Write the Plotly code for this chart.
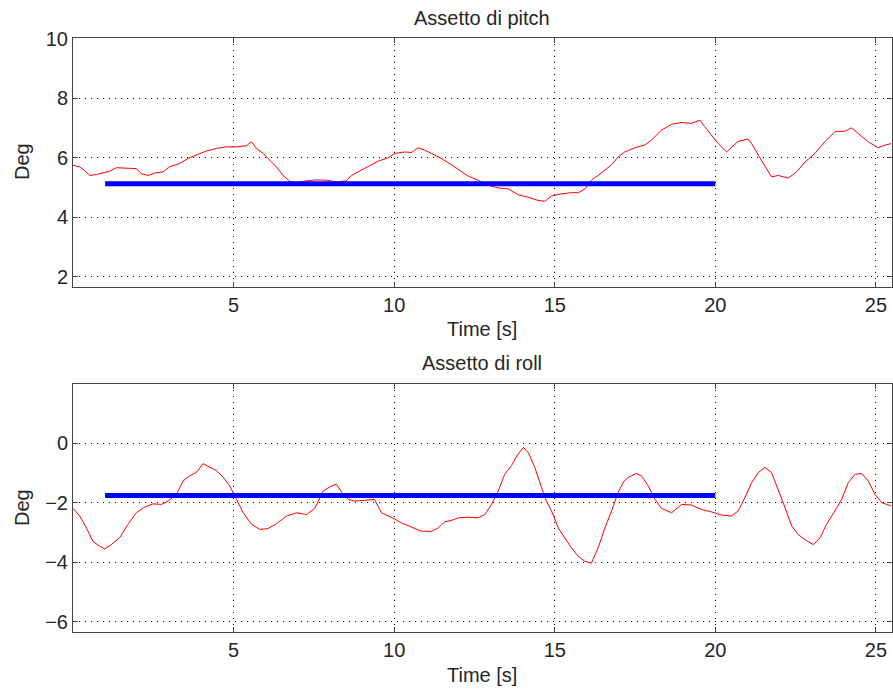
import plotly.graph_objects as go

# ---- data ----
t_pitch = [0.0, 0.2, 0.36, 0.52, 0.73, 0.93, 1.14, 1.35, 1.66, 1.97, 2.13, 2.34, 2.54, 2.8, 3.01, 3.32, 3.58,
           3.84, 4.15, 4.47, 4.78, 5.09, 5.4, 5.56, 5.71, 5.92, 6.13, 6.33, 6.54, 6.75, 6.96, 7.27, 7.58, 7.89,
           8.2, 8.51, 8.67, 8.88, 9.08, 9.29, 9.5, 9.81, 10.02, 10.33, 10.54, 10.74, 10.95, 11.16, 11.47, 11.78,
           12.09, 12.3, 12.61, 12.93, 13.24, 13.55, 13.86, 14.17, 14.48, 14.69, 14.9, 15.21, 15.52, 15.73, 15.94,
           16.14, 16.35, 16.56, 16.77, 16.97, 17.18, 17.49, 17.8, 18.01, 18.32, 18.64, 18.95, 19.26, 19.52, 19.67,
           19.88, 20.09, 20.35, 20.5, 20.71, 21.02, 21.13, 21.34, 21.54, 21.75, 21.96, 22.27, 22.53, 22.79, 23.1,
           23.41, 23.72, 24.04, 24.24, 24.45, 24.76, 25.07, 25.28, 25.47]
pitch = [5.75, 5.70, 5.58, 5.41, 5.44, 5.49, 5.55, 5.67, 5.66, 5.64, 5.47, 5.41, 5.49, 5.53, 5.70, 5.81, 5.98,
         6.09, 6.23, 6.32, 6.37, 6.37, 6.41, 6.54, 6.32, 6.15, 5.92, 5.70, 5.41, 5.21, 5.17, 5.23, 5.26, 5.25,
         5.19, 5.23, 5.41, 5.53, 5.64, 5.77, 5.89, 6.00, 6.15, 6.20, 6.18, 6.34, 6.26, 6.15, 5.98, 5.77,
         5.55, 5.39, 5.25, 5.08, 4.99, 4.96, 4.76, 4.68, 4.57, 4.54, 4.72, 4.79, 4.83, 4.83, 4.96,
         5.25, 5.41, 5.58, 5.77, 6.03, 6.20, 6.34, 6.43, 6.60, 6.93, 7.13, 7.19, 7.16, 7.27, 7.05,
         6.77, 6.48, 6.20, 6.34, 6.56, 6.63, 6.48, 6.09, 5.75, 5.36, 5.41, 5.32, 5.53, 5.86, 6.15,
         6.54, 6.88, 6.90, 7.01, 6.82, 6.54, 6.34, 6.43, 6.48]

t_roll = [0.0, 0.21, 0.42, 0.62, 0.83, 0.99, 1.19, 1.45, 1.71, 1.97, 2.23, 2.49, 2.75, 2.96, 3.22, 3.43, 3.63,
          3.84, 4.05, 4.26, 4.47, 4.67, 4.88, 5.09, 5.3, 5.56, 5.82, 6.07, 6.33, 6.65, 6.96, 7.27, 7.53, 7.79,
          8.0, 8.2, 8.41, 8.57, 8.77, 9.08, 9.39, 9.6, 9.91, 10.23, 10.54, 10.85, 11.16, 11.37, 11.58, 11.78,
          11.99, 12.3, 12.61, 12.82, 13.03, 13.24, 13.44, 13.65, 13.86, 14.02, 14.17, 14.38, 14.59, 14.74, 14.9,
          15.11, 15.31, 15.52, 15.73, 15.94, 16.14, 16.35, 16.56, 16.77, 16.97, 17.16, 17.28, 17.54, 17.7, 17.91,
          18.12, 18.32, 18.64, 18.95, 19.26, 19.57, 19.88, 20.2, 20.5, 20.71, 20.92, 21.13, 21.34, 21.54, 21.75,
          21.96, 22.17, 22.38, 22.58, 22.79, 23.05, 23.26, 23.46, 23.72, 23.93, 24.14, 24.35, 24.55, 24.76,
          24.97, 25.18, 25.47]
roll = [-2.19, -2.45, -2.85, -3.30, -3.46, -3.55, -3.41, -3.18, -2.73, -2.34, -2.15, -2.04, -2.06, -1.95, -1.72,
        -1.27, -1.10, -0.99, -0.69, -0.82, -0.93, -1.14, -1.44, -1.89, -2.34, -2.73, -2.90, -2.87, -2.71, -2.45,
        -2.34, -2.40, -2.19, -1.61, -1.47, -1.38, -1.72, -1.89, -1.95, -1.92, -1.89, -2.34, -2.49, -2.68, -2.82,
        -2.96, -2.96, -2.85, -2.64, -2.60, -2.51, -2.49, -2.51, -2.40, -2.06, -1.61, -1.05, -0.76, -0.37, -0.15,
        -0.31, -0.82, -1.50, -1.95, -2.28, -2.85, -3.18, -3.52, -3.80, -3.97, -4.03, -3.52, -2.85, -2.28, -1.66,
        -1.27, -1.16, -1.02, -1.10, -1.44, -1.89, -2.19, -2.34, -2.06, -2.08, -2.23, -2.31, -2.42, -2.45, -2.28,
        -1.83, -1.33, -0.99, -0.82, -0.99, -1.55, -2.17, -2.79, -3.07, -3.24, -3.41, -3.18, -2.73, -2.28, -1.89,
        -1.33, -1.05, -1.02, -1.27, -1.72, -2.00, -2.11]

ref_t = [1, 20]
ref_pitch = [5.13, 5.13]
ref_roll = [-1.76, -1.76]

x_ticks = [5, 10, 15, 20, 25]
y1_ticks = [2, 4, 6, 8, 10]
y2_ticks = [-6, -4, -2, 0]

W, H = 893, 690
L, R = 73, 1
PW = W - L - R
FONT = "Liberation Sans, Arial, sans-serif"
TXT = "#262626"
FS = 20

fig = go.Figure()
fig.add_trace(go.Scatter(x=t_pitch, y=pitch, mode="lines", line=dict(color="#ff0000", width=1),
                         xaxis="x", yaxis="y", showlegend=False))
fig.add_trace(go.Scatter(x=ref_t, y=ref_pitch, mode="lines", line=dict(color="#0000ff", width=5),
                         xaxis="x", yaxis="y", showlegend=False))
fig.add_trace(go.Scatter(x=t_roll, y=roll, mode="lines", line=dict(color="#ff0000", width=1),
                         xaxis="x2", yaxis="y2", showlegend=False))
fig.add_trace(go.Scatter(x=ref_t, y=ref_roll, mode="lines", line=dict(color="#0000ff", width=5),
                         xaxis="x2", yaxis="y2", showlegend=False))

def py(p):
    return 1 - p / H

def px(p):
    return (p - L) / PW

axis_common = dict(showline=True, linecolor="#444444", linewidth=1, mirror="allticks",
                   ticks="inside", ticklen=5, tickcolor="#444444", automargin=False,
                   showgrid=True, gridcolor="#000000", gridwidth=1, griddash="1px,5px",
                   zeroline=False, tickfont=dict(family=FONT, size=FS, color=TXT))

fig.update_layout(
    template="none",
    width=W, height=H,
    margin=dict(l=L, r=R, t=0, b=0, pad=0),
    paper_bgcolor="white", plot_bgcolor="white",
    xaxis=dict(domain=[0, 1], range=[0, 25.5], tickvals=x_ticks, anchor="y", **axis_common),
    yaxis=dict(domain=[py(287), py(38)], range=[1.66, 10.03], tickvals=y1_ticks, anchor="x", **axis_common),
    xaxis2=dict(domain=[0, 1], range=[0, 25.5], tickvals=x_ticks, anchor="y2", **axis_common),
    yaxis2=dict(domain=[py(632), py(384)], range=[-6.34, 1.98], tickvals=y2_ticks, anchor="x2", **axis_common),
)

def ann(text, x, y, angle=0):
    fig.add_annotation(text=text, x=px(x), y=py(y), xref="paper", yref="paper",
                       showarrow=False, textangle=angle, xanchor="center", yanchor="middle",
                       font=dict(family=FONT, size=FS, color=TXT))

ann("Assetto di pitch", 482, 18)
ann("Time [s]", 482, 329)
ann("Deg", 22, 162, -90)
ann("Assetto di roll", 482, 363)
ann("Time [s]", 482, 675)
ann("Deg", 22, 508, -90)

fig.write_html("out.html")
